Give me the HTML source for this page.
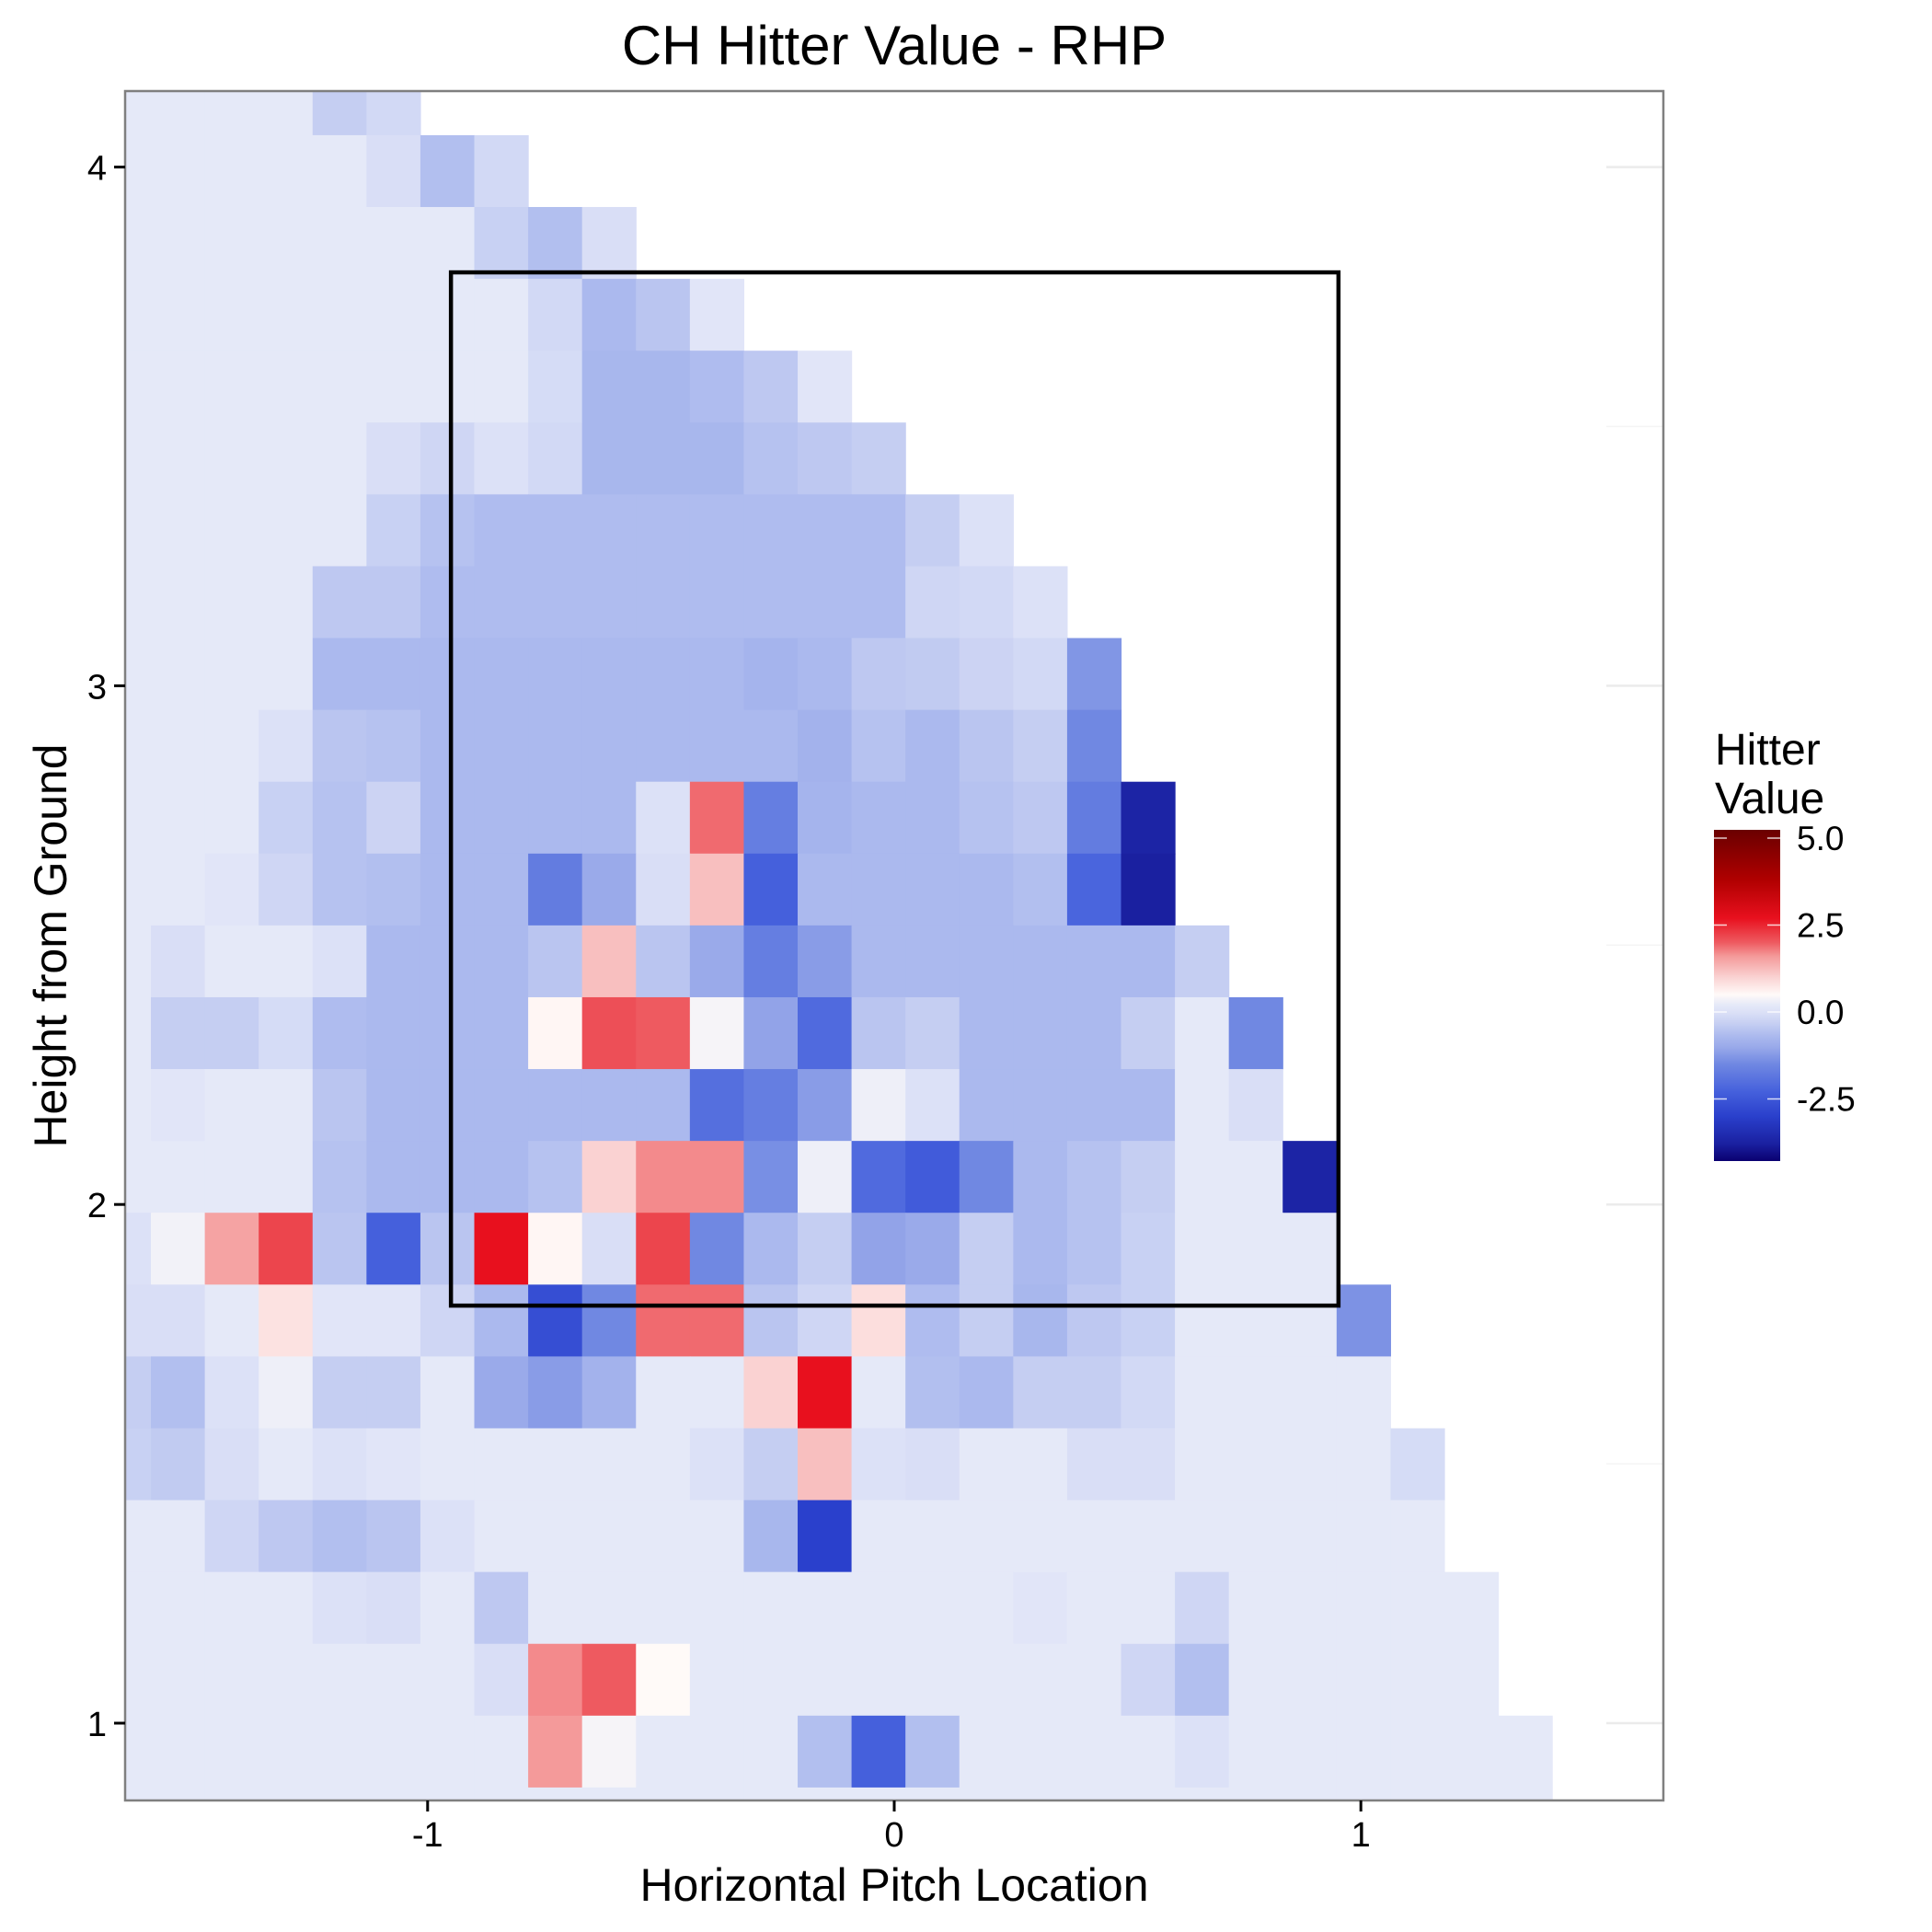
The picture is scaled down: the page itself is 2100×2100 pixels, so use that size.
<!DOCTYPE html>
<html><head><meta charset="utf-8"><title>CH Hitter Value - RHP</title>
<style>html,body{margin:0;padding:0;background:#fff}svg{display:block}text{font-family:"Liberation Sans",Arial,sans-serif}</style>
</head><body>
<svg id="chart" width="2100" height="2100" viewBox="0 0 2100 2100" xmlns="http://www.w3.org/2000/svg">
<defs>
<clipPath id="panelClip"><rect x="136" y="99" width="1672" height="1858"/></clipPath>
<linearGradient id="legendGrad" x1="0" y1="0" x2="0" y2="1"></linearGradient>
</defs>
<rect x="0" y="0" width="2100" height="2100" fill="#fff"/>
<text x="972" y="70" font-size="60" text-anchor="middle">CH Hitter Value - RHP</text>
<g id="panel">
  <rect x="136" y="99" width="1672" height="1858" fill="#fff"/>
  <g id="grid"></g>
  <g id="tiles" clip-path="url(#panelClip)"></g>
  <rect id="zone" fill="none" stroke="#000" stroke-width="4.5"/>
  <rect x="136" y="99" width="1672" height="1858" fill="none" stroke="#7f7f7f" stroke-width="2.5"/>
</g>
<g id="xaxis"></g>
<g id="yaxis"></g>
<text x="972" y="2066" font-size="50" text-anchor="middle">Horizontal Pitch Location</text>
<text transform="translate(72,1028) rotate(-90)" font-size="50" text-anchor="middle">Height from Ground</text>
<g id="legend">
  <text x="1864" y="831" font-size="48">Hitter</text>
  <text x="1864" y="884" font-size="48">Value</text>
  <rect x="1863" y="902" width="72" height="360" fill="url(#legendGrad)"/>
  <g id="legendTicks"></g>
</g>
</svg>
<script>
const n = null;
const colStart = -1.7085, colWidth = 0.1155;
const rowStart = 0.7375, rowHeight = 0.1385;
const xTicks = [-1, 0, 1];
const xTickLabels = ["-1", "0", "1"];
const yTicks = [1, 2, 3, 4];
const yTickLabels = ["1", "2", "3", "4"];
const legendTicks = [5.0, 2.5, 0.0, -2.5];
const legendTickLabels = ["5.0", "2.5", "0.0", "-2.5"];
const zoneX = [-0.95, 0.952];
const zoneY = [1.805, 3.797];
const row23 = [.2,.2,.2,.2,-.35,-.15,n,n,n,n,n,n,n,n,n,n,n,n,n,n,n,n,n,n,n,n,n];
const row22 = [.2,.2,.2,.2,.2,-.05,-.6,-.15,n,n,n,n,n,n,n,n,n,n,n,n,n,n,n,n,n,n,n];
const row21 = [.2,.2,.2,.2,.2,.2,.2,-.3,-.6,-.05,n,n,n,n,n,n,n,n,n,n,n,n,n,n,n,n,n];
const row20 = [.2,.2,.2,.2,.2,.2,.2,.2,-.15,-.7,-.5,.1,n,n,n,n,n,n,n,n,n,n,n,n,n,n,n];
const row19 = [.2,.2,.2,.2,.2,.2,.2,.2,-.1,-.75,-.75,-.65,-.45,.1,n,n,n,n,n,n,n,n,n,n,n,n,n];
const row18 = [.2,.2,.2,.2,.2,-.05,-.2,0,-.15,-.75,-.75,-.75,-.55,-.45,-.35,n,n,n,n,n,n,n,n,n,n,n,n];
const row17 = [.2,.2,.2,.2,.2,-.3,-.55,-.65,-.65,-.65,-.65,-.65,-.65,-.65,-.65,-.35,0,n,n,n,n,n,n,n,n,n,n];
const row16 = [.2,.2,.2,.2,-.45,-.45,-.65,-.65,-.65,-.65,-.65,-.65,-.65,-.65,-.65,-.2,-.15,0,n,n,n,n,n,n,n,n,n];
const row15 = [.2,.2,.2,.2,-.7,-.7,-.7,-.7,-.7,-.7,-.7,-.7,-.8,-.7,-.45,-.4,-.25,-.15,-1.3,n,n,n,n,n,n,n,n];
const row14 = [.2,.2,.2,0,-.5,-.55,-.7,-.7,-.7,-.7,-.7,-.7,-.7,-.85,-.55,-.7,-.5,-.35,-1.5,n,n,n,n,n,n,n,n];
const row13 = [.2,.2,.2,-.3,-.55,-.25,-.7,-.7,-.7,-.7,0,1.9,-1.7,-.8,-.7,-.7,-.55,-.45,-1.75,-3.7,n,n,n,n,n,n,n];
const row12 = [.2,.2,.1,-.2,-.55,-.6,-.7,-.7,-1.75,-1.0,-.05,1.2,-2.3,-.7,-.7,-.7,-.7,-.6,-2.2,-3.8,n,n,n,n,n,n,n];
const row11 = [.2,-.05,.2,.2,0,-.7,-.7,-.7,-.5,1.2,-.5,-1.0,-1.7,-1.2,-.7,-.7,-.7,-.7,-.7,-.7,-.35,n,n,n,n,n,n];
const row10 = [.2,-.35,-.35,-.1,-.65,-.7,-.7,-.7,.55,2.1,2.0,.4,-1.1,-2.1,-.5,-.35,-.7,-.7,-.7,-.35,.2,-1.5,n,n,n,n,n];
const row9  = [.2,.1,.2,.2,-.5,-.7,-.7,-.7,-.7,-.7,-.7,-2.0,-1.7,-1.2,.3,0,-.7,-.7,-.7,-.7,.2,-.05,n,n,n,n,n];
const row8  = [.2,.2,.2,.2,-.55,-.7,-.7,-.7,-.55,1.0,1.7,1.7,-1.4,.3,-2.1,-2.4,-1.5,-.7,-.55,-.35,.2,.2,-3.7,n,n,n,n];
const row7  = [0,.35,1.5,2.2,-.5,-2.3,-.5,2.7,.55,-.05,2.2,-1.5,-.7,-.35,-1.1,-1.0,-.35,-.7,-.55,-.3,.2,.2,.2,n,n,n,n];
const row6  = [-.05,-.05,.2,.8,.1,.1,-.2,-.7,-2.7,-1.5,1.9,1.9,-.5,-.2,.85,-.65,-.35,-.75,-.45,-.3,.2,.2,.2,-1.35,n,n,n];
const row5  = [-.35,-.6,0,.3,-.35,-.35,.2,-1.0,-1.2,-.85,.2,.2,1.0,2.7,.2,-.6,-.7,-.35,-.35,-.15,.2,.2,.2,.2,n,n,n];
const row4  = [-.3,-.4,-.05,.2,0,.1,.2,.2,.2,.2,.2,0,-.35,1.2,0,-.05,.2,.2,-.05,-.05,.2,.2,.2,.2,-.1,n,n];
const row3  = [.2,.2,-.2,-.45,-.6,-.5,0,.2,.2,.2,.2,.2,-.75,-3.0,.2,.2,.2,.2,.2,.2,.2,.2,.2,.2,.2,n,n];
const row2  = [.2,.2,.2,.2,0,-.05,.2,-.45,.2,.2,.2,.2,.2,.2,.2,.2,.2,.1,.2,.2,-.2,.2,.2,.2,.2,.2,n];
const row1  = [.2,.2,.2,.2,.2,.2,.2,-.05,1.7,2.0,.5,.2,.2,.2,.2,.2,.2,.2,.2,-.2,-.6,.2,.2,.2,.2,.2,n];
const row0  = [.2,.2,.2,.2,.2,.2,.2,.2,1.6,.4,.2,.2,.2,-.6,-2.3,-.6,.2,.2,.2,.2,0,.2,.2,.2,.2,.2,.2];
const rowStrip = [.2,.2,.2,.2,.2,.2,.2,.2,.2,.2,.2,.2,.2,.2,.2,.2,.2,.2,.2,.2,.2,.2,.2,.2,.2,.2,.2];
const rowsTopDown = [row23,row22,row21,row20,row19,row18,row17,row16,row15,row14,row13,row12,row11,row10,row9,row8,row7,row6,row5,row4,row3,row2,row1,row0,rowStrip];

const colorStops = [[-4.29,'#0A0070'],[-3.8,'#1A20A0'],[-3.0,'#2A40CC'],[-2.3,'#4560DC'],[-1.5,'#7088E2'],[-1.0,'#9AAAEA'],[-0.7,'#ABB9EE'],[-0.35,'#C5CEF2'],[0,'#DCE1F7'],[0.2,'#E5E9F8'],[0.5,'#FFFAF8'],[1.0,'#FAD2D2'],[1.6,'#F49A9A'],[2.0,'#EE5A60'],[2.7,'#E8101E'],[3.8,'#B00000'],[5.24,'#6A0000']];

const NS = 'http://www.w3.org/2000/svg';
const px0 = 136, px1 = 1808, py0 = 99, py1 = 1957;
const xScale = v => 972 + v * 507.2;
const yScale = v => 1873 - (v - 1) * 563.8;
const legScale = v => 911 + (5 - v) * 37.8;

function hex2rgb(h){return [1,3,5].map(i=>parseInt(h.substr(i,2),16));}
function colorFor(v){
  if (v <= colorStops[0][0]) return colorStops[0][1];
  for (let i=1;i<colorStops.length;i++){
    if (v <= colorStops[i][0]){
      const [a,ca]=colorStops[i-1],[b,cb]=colorStops[i];
      const t=(v-a)/(b-a), A=hex2rgb(ca), B=hex2rgb(cb);
      return 'rgb('+A.map((c,j)=>Math.round(c+(B[j]-c)*t)).join(',')+')';
    }
  }
  return colorStops[colorStops.length-1][1];
}
function mk(tag, attrs, parent){const e=document.createElementNS(NS,tag);for(const k in attrs)e.setAttribute(k,attrs[k]);parent.appendChild(e);return e;}

const grid = document.getElementById('grid');
[1,1.5,2,2.5,3,3.5,4].forEach(v=>{
  const l = mk('line',{x1:1746,x2:px1,y1:yScale(v),y2:yScale(v),stroke:(v%1===0)?'#ebebeb':'#f4f4f4','stroke-width':(v%1===0)?2.5:1.5},grid);
  
  
});

const tiles = document.getElementById('tiles');
const nRows = rowsTopDown.length;
rowsTopDown.forEach((row, ri) => {
  const r = (nRows - 2) - ri;
  const yb = rowStart + (r + 1) * rowHeight;
  const yt = yb + rowHeight;
  row.forEach((v, ci) => {
    if (v === null || v === undefined) return;
    const xl = colStart + ci * colWidth, xr = xl + colWidth;
    const x = xScale(xl), y = yScale(yt);
    const rect = mk('rect',{x:x,y:y,width:xScale(xr)-x+0.6,height:yScale(yb)-y+0.6,fill:colorFor(v)},tiles);
    
    
  });
});

const zone = document.getElementById('zone');
zone.setAttribute('x', xScale(zoneX[0]));
zone.setAttribute('y', yScale(zoneY[1]));
zone.setAttribute('width', xScale(zoneX[1]) - xScale(zoneX[0]));
zone.setAttribute('height', yScale(zoneY[0]) - yScale(zoneY[1]));

const xa = document.getElementById('xaxis');
xTicks.forEach((v,i)=>{
  const t = mk('line',{x1:xScale(v),x2:xScale(v),y1:py1,y2:py1+12,stroke:'#000','stroke-width':3},xa);
  
  
  const lb = mk('text',{x:xScale(v),y:py1+50,'font-size':38,'text-anchor':'middle'},xa);
  lb.textContent = xTickLabels[i];
  
  
});
const ya = document.getElementById('yaxis');
yTicks.forEach((v,i)=>{
  const t = mk('line',{x1:px0-12,x2:px0,y1:yScale(v),y2:yScale(v),stroke:'#000','stroke-width':3},ya);
  
  
  const lb = mk('text',{x:px0-20,y:yScale(v)+14,'font-size':38,'text-anchor':'end'},ya);
  lb.textContent = yTickLabels[i];
  
  
});

const grad = document.getElementById('legendGrad');
const topV = 5.24, botV = -4.29;
colorStops.slice().reverse().forEach(([v,c])=>{
  mk('stop',{offset:((topV - v)/(topV - botV)).toFixed(4),'stop-color':c},grad);
});
const lt = document.getElementById('legendTicks');
legendTicks.forEach((v,i)=>{
  const y = legScale(v);
  mk('line',{x1:1863,x2:1877,y1:y,y2:y,stroke:'#fff','stroke-width':1.5,opacity:0.8},lt);
  mk('line',{x1:1921,x2:1935,y1:y,y2:y,stroke:'#fff','stroke-width':1.5,opacity:0.8},lt);
  const lb = mk('text',{x:1953,y:y+13,'font-size':37},lt);
  lb.textContent = legendTickLabels[i];
  
  
});
</script>
</body></html>
